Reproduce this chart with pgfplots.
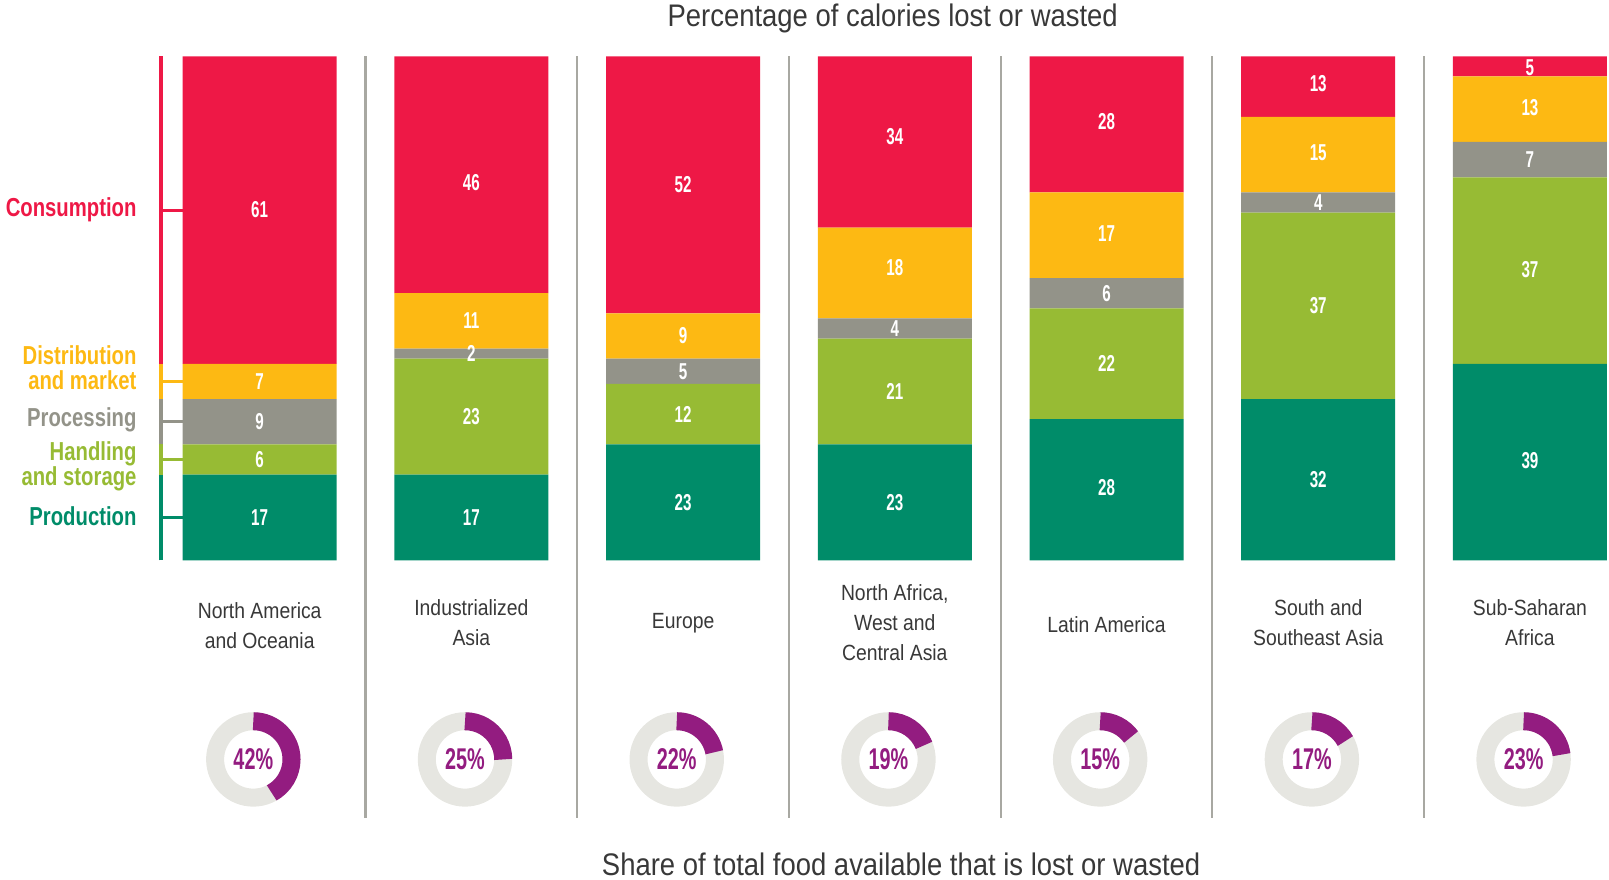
\documentclass[border=0pt]{standalone}
\usepackage{pgfplots}
\pgfplotsset{compat=1.18}
\usepackage{pgfplotstable}
\usepackage{fontspec}
\setmainfont{Liberation Sans}[FakeStretch=0.88]
\newfontfamily\numfont{Liberation Sans}[FakeStretch=0.66]
\newfontfamily\labfont{Liberation Sans}[FakeStretch=0.78]
\definecolor{cCons}{HTML}{EE1846}
\definecolor{cDist}{HTML}{FDB913}
\definecolor{cProc}{HTML}{939389}
\definecolor{cHand}{HTML}{97BB34}
\definecolor{cProd}{HTML}{008C69}
\definecolor{cRing}{HTML}{E6E6E1}
\definecolor{cDonut}{HTML}{931C80}
\definecolor{cSep}{HTML}{A8A8A2}
\definecolor{cTxt}{HTML}{383838}

% stacked heights (consumption height = 100 - other stages)
\pgfplotstableread{
x prod hand proc dist cons
0 17 6  9 7  61
1 17 23 2 11 47
2 23 12 5 9  51
3 23 21 4 18 34
4 28 22 6 17 27
5 32 37 4 15 12
6 39 37 7 13 4
}\tabBars
% printed values and their positions
\pgfplotstableread{
x y lab
0 8.5  17
0 20   6
0 27.5 9
0 35.5 7
0 69.5 61
1 8.5  17
1 28.5 23
1 41   2
1 47.5 11
1 75   46
2 11.5 23
2 29   12
2 37.5 5
2 44.5 9
2 74.5 52
3 11.5 23
3 33.5 21
3 46   4
3 58   18
3 84   34
4 14.5 28
4 39   22
4 53   6
4 64.8 17
4 87   28
5 16   32
5 50.5 37
5 71   4
5 80.8 15
5 94.5 13
6 19.8 39
6 57.6 37
6 79.5 7
6 89.8 13
6 97.8 5
}\tabLabs

\pgfplotsset{myaxis/.style={x=105.85pt, y=2.52pt, xmin=-0.466, xmax=6.364,
  ymin=0, ymax=100, hide axis, clip=false, anchor=south west, at={(0,0)}}}

\newcommand{\donut}[2]{%
  \draw[cRing, line width=9pt] (#1) circle[radius=19.1pt];
  \draw[cDonut, line width=9pt] (#1) ++(0,19.1pt) arc[start angle=90, end angle={90-3.6*#2}, radius=19.1pt];
  \node[text=cDonut, font=\numfont\bfseries\fontsize{15}{15}\selectfont] at (#1) {#2\%};
}

\begin{document}
\begin{tikzpicture}
\begin{axis}[myaxis, ybar stacked, bar width=77pt]
\addplot[fill=cProd, draw=none] table[x=x, y=prod] {\tabBars};
\addplot[fill=cHand, draw=none] table[x=x, y=hand] {\tabBars};
\addplot[fill=cProc, draw=none] table[x=x, y=proc] {\tabBars};
\addplot[fill=cDist, draw=none] table[x=x, y=dist] {\tabBars};
\addplot[fill=cCons, draw=none] table[x=x, y=cons] {\tabBars};

% separators
\pgfplotsinvokeforeach{0.5,1.5,2.5,3.5,4.5,5.5}{
  \draw[cSep, line width=1.1pt] (axis cs:#1,100) -- (axis cs:#1,-51.1);
}
% left stage axis
\draw[cProd, line width=1.8pt] (axis cs:-0.466,0) -- (axis cs:-0.466,17);
\draw[cHand, line width=1.8pt] (axis cs:-0.466,17) -- (axis cs:-0.466,23);
\draw[cProc, line width=1.8pt] (axis cs:-0.466,23) -- (axis cs:-0.466,32);
\draw[cDist, line width=1.8pt] (axis cs:-0.466,32) -- (axis cs:-0.466,39);
\draw[cCons, line width=1.8pt] (axis cs:-0.466,39) -- (axis cs:-0.466,100);
\draw[cProd, line width=1.5pt] (axis cs:-0.466,8.5) -- ++(-4pt,0);
\draw[cHand, line width=1.5pt] (axis cs:-0.466,20) -- ++(-4pt,0);
\draw[cProc, line width=1.5pt] (axis cs:-0.466,27.5) -- ++(-4pt,0);
\draw[cDist, line width=1.5pt] (axis cs:-0.466,35.5) -- ++(-4pt,0);
\draw[cCons, line width=1.5pt] (axis cs:-0.466,69.5) -- ++(-4pt,0);
\node[inner sep=0pt, anchor=east, align=right, font=\labfont\bfseries\fontsize{13}{12.4}\selectfont, text=cCons] at (axis cs:-0.58,69.5) {Consumption};
\node[inner sep=0pt, anchor=east, align=right, font=\labfont\bfseries\fontsize{13}{12.4}\selectfont, text=cDist] at (axis cs:-0.58,38.2) {Distribution\\and market};
\node[inner sep=0pt, anchor=east, align=right, font=\labfont\bfseries\fontsize{13}{12.4}\selectfont, text=cProc] at (axis cs:-0.58,27.8) {Processing};
\node[inner sep=0pt, anchor=east, align=right, font=\labfont\bfseries\fontsize{13}{12.4}\selectfont, text=cHand] at (axis cs:-0.58,18.6) {Handling\\and storage};
\node[inner sep=0pt, anchor=east, align=right, font=\labfont\bfseries\fontsize{13}{12.4}\selectfont, text=cProd] at (axis cs:-0.58,8.8) {Production};

% titles
\node[text=cTxt, font=\fontsize{15.6}{16}\selectfont] at (axis cs:2.99,107.5) {Percentage of calories lost or wasted};
\node[text=cTxt, font=\fontsize{15.6}{16}\selectfont] at (axis cs:3.03,-60.3) {Share of total food available that is lost or wasted};

% region labels
\node[align=center, text=cTxt, font=\fontsize{11}{15}\selectfont] at (axis cs:0,-12.9) {North America\\and Oceania};
\node[align=center, text=cTxt, font=\fontsize{11}{15}\selectfont] at (axis cs:1,-12.3) {Industrialized\\Asia};
\node[align=center, text=cTxt, font=\fontsize{11}{15}\selectfont] at (axis cs:2,-12.4) {Europe};
\node[align=center, text=cTxt, font=\fontsize{11}{15}\selectfont] at (axis cs:3,-12.4) {North Africa,\\West and\\Central Asia};
\node[align=center, text=cTxt, font=\fontsize{11}{15}\selectfont] at (axis cs:4,-12.8) {Latin America};
\node[align=center, text=cTxt, font=\fontsize{11}{15}\selectfont] at (axis cs:5,-12.4) {South and\\Southeast Asia};
\node[align=center, text=cTxt, font=\fontsize{11}{15}\selectfont] at (axis cs:6,-12.4) {Sub-Saharan\\Africa};

% donut centres
\coordinate (d0) at (axis cs:-0.03,-39.5);
\coordinate (d1) at (axis cs:0.97,-39.5);
\coordinate (d2) at (axis cs:1.97,-39.5);
\coordinate (d3) at (axis cs:2.97,-39.5);
\coordinate (d4) at (axis cs:3.97,-39.5);
\coordinate (d5) at (axis cs:4.97,-39.5);
\coordinate (d6) at (axis cs:5.97,-39.5);

\coordinate (bbSW) at (axis cs:-1.2265,-63.23);
\coordinate (bbNE) at (axis cs:6.3734,111.17);
\end{axis}

\begin{axis}[myaxis]
\addplot[draw=none, mark=none, nodes near coords={\pgfplotspointmeta}, point meta=explicit symbolic,
  every node near coord/.style={anchor=center, text=white, font=\numfont\bfseries\fontsize{11.5}{12}\selectfont}]
  table[x=x, y=y, meta=lab] {\tabLabs};
\end{axis}

% donuts: share of total food available that is lost or wasted (%)
\donut{d0}{42}
\donut{d1}{25}
\donut{d2}{22}
\donut{d3}{19}
\donut{d4}{15}
\donut{d5}{17}
\donut{d6}{23}

\pgfresetboundingbox
\path[use as bounding box] (bbSW) rectangle (bbNE);
\end{tikzpicture}
\end{document}
